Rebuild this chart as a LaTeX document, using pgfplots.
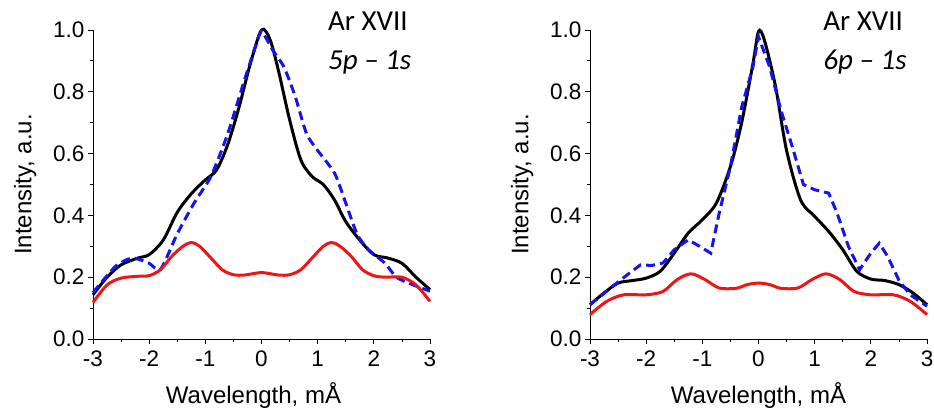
\documentclass[border=0pt]{standalone}
\usepackage{fontspec}
\setmainfont{Liberation Sans}
\newfontfamily\calfont{Carlito}
\usepackage{pgfplots}
\pgfplotsset{compat=1.18}
\definecolor{myblue}{RGB}{20,20,240}
\definecolor{myred}{RGB}{240,20,20}
\pgfplotsset{
  panel/.style={
    scale only axis, width=337pt, height=309pt,
    xmin=-3, xmax=3, ymin=0, ymax=1,
    axis x line*=bottom, axis y line*=left,
    tick align=outside,
    major tick length=5pt, minor tick length=3pt,
    xtick={-3,-2,...,3}, ytick={0,0.2,...,1.0},
    minor x tick num=1, minor y tick num=1,
    yticklabel style={/pgf/number format/.cd, fixed, fixed zerofill, precision=1},
    /pgf/number format/assume math mode=true,
    tick label style={font=\fontsize{22.5}{25}\selectfont},
    xticklabel style={yshift=-3pt},
    label style={font=\fontsize{24}{27}\selectfont},
    xlabel style={yshift=-9pt},
    ylabel style={yshift=10pt},
    xlabel={Wavelength, mÅ},
    ylabel={Intensity, a.u.},
    every axis plot/.append style={line width=3pt},
    clip=false,
    axis line style={line width=0.8pt},
    every tick/.style={black, line width=0.8pt},
  }
}
\begin{document}
\begin{tikzpicture}
\useasboundingbox (0,0) rectangle (934pt,409pt);
\begin{axis}[panel, at={(93pt,70pt)}, anchor=south west, xlabel style={xshift=-8pt}]
\addplot[black, smooth] coordinates {
(-3,0.143) (-2.75,0.2) (-2.5,0.24) (-2.2,0.262) (-2,0.273) (-1.75,0.32) (-1.5,0.41) (-1.25,0.47) (-1,0.515) (-0.8,0.547) (-0.6,0.63) (-0.4,0.75) (-0.2,0.89) (0,1.0) (0.15,0.97) (0.3,0.87) (0.5,0.71) (0.7,0.58) (0.9,0.526) (1.1,0.5) (1.3,0.45) (1.5,0.38) (1.75,0.32) (2,0.273) (2.25,0.262) (2.5,0.245) (2.75,0.2) (3,0.16)};
\addplot[myblue, dash pattern=on 9pt off 5pt, smooth, tension=0.4] coordinates {
(-3,0.15) (-2.6,0.235) (-2.3,0.262) (-2.0,0.245) (-1.8,0.225) (-1.5,0.34) (-1.2,0.44) (-0.9,0.526) (-0.6,0.665) (-0.3,0.84) (-0.1,0.95) (0,0.995) (0.2,0.935) (0.4,0.88) (0.6,0.785) (0.8,0.665) (1.0,0.61) (1.3,0.537) (1.5,0.44) (1.7,0.34) (1.9,0.29) (2.2,0.245) (2.4,0.2) (2.7,0.175) (3.0,0.155)};
\addplot[myred, smooth] coordinates {
(-3,0.118) (-2.75,0.175) (-2.5,0.197) (-2.2,0.203) (-2.0,0.205) (-1.8,0.224) (-1.6,0.267) (-1.4,0.3) (-1.25,0.312) (-1.1,0.3) (-0.9,0.262) (-0.7,0.224) (-0.5,0.208) (-0.3,0.207) (0,0.215) (0.3,0.207) (0.5,0.208) (0.7,0.224) (0.9,0.262) (1.1,0.3) (1.25,0.312) (1.4,0.3) (1.6,0.267) (1.8,0.224) (2.0,0.205) (2.2,0.2) (2.5,0.2) (2.75,0.175) (3,0.122)};
\node[anchor=base west, font=\calfont\fontsize{29}{33}\selectfont, inner sep=0pt] at (rel axis cs:0.697,0.997) {Ar XVII};
\node[anchor=base west, font=\calfont\itshape\fontsize{29}{33}\selectfont, inner sep=0pt] at (rel axis cs:0.697,0.872) {5p – 1s};
\end{axis}
\begin{axis}[panel, at={(590pt,70pt)}, anchor=south west]
\addplot[black, smooth] coordinates {
(-3,0.111) (-2.75,0.149) (-2.5,0.181) (-2.25,0.189) (-2,0.197) (-1.75,0.219) (-1.5,0.278) (-1.25,0.343) (-1.0,0.386) (-0.75,0.44) (-0.5,0.558) (-0.3,0.7) (-0.1,0.89) (0,0.995) (0.1,0.97) (0.3,0.82) (0.5,0.61) (0.75,0.45) (1.0,0.397) (1.25,0.348) (1.5,0.289) (1.75,0.219) (2.0,0.194) (2.25,0.189) (2.5,0.176) (2.75,0.149) (3,0.111)};
\addplot[myblue, dash pattern=on 9pt off 5pt] coordinates {
(-3,0.111) (-2.6,0.17) (-2.3,0.213) (-2.1,0.24) (-1.9,0.238) (-1.7,0.246) (-1.5,0.289) (-1.25,0.321) (-1.05,0.3) (-0.85,0.278) (-0.7,0.407) (-0.5,0.558) (-0.3,0.75) (-0.1,0.88) (0,0.978) (0.2,0.88) (0.4,0.74) (0.6,0.623) (0.8,0.5) (1.0,0.483) (1.25,0.472) (1.4,0.407) (1.6,0.3) (1.8,0.224) (2.0,0.278) (2.15,0.31) (2.3,0.267) (2.5,0.19) (2.7,0.143) (3.0,0.106)};
\addplot[myred, smooth] coordinates {
(-3,0.079) (-2.7,0.122) (-2.4,0.143) (-2.0,0.143) (-1.7,0.154) (-1.45,0.192) (-1.2,0.211) (-0.95,0.192) (-0.7,0.165) (-0.4,0.164) (-0.2,0.176) (0,0.181) (0.2,0.176) (0.4,0.164) (0.7,0.165) (0.95,0.192) (1.2,0.211) (1.45,0.192) (1.7,0.154) (2.0,0.143) (2.4,0.143) (2.7,0.122) (3.0,0.079)};
\node[anchor=base west, font=\calfont\fontsize{29}{33}\selectfont, inner sep=0pt] at (rel axis cs:0.692,0.997) {Ar XVII};
\node[anchor=base west, font=\calfont\itshape\fontsize{29}{33}\selectfont, inner sep=0pt] at (rel axis cs:0.692,0.872) {6p – 1s};
\end{axis}
\end{tikzpicture}
\end{document}
